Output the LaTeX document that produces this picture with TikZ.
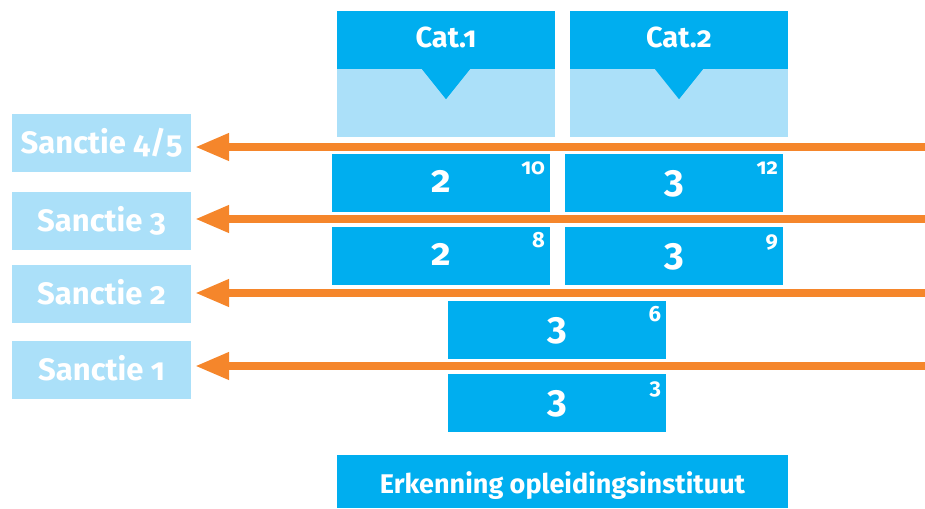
\documentclass[tikz,border=0pt]{standalone}
\usepackage{fontspec}
\setmainfont{Fira Sans}[Numbers=OldStyle]
\usetikzlibrary{arrows.meta}
\definecolor{catblue}{HTML}{00AEEF}
\definecolor{paleblue}{HTML}{ABE0F9}
\definecolor{sanctieorange}{HTML}{F5862B}
\tikzset{
    cat-head/.style = {fill=catblue, text=white, rectangle, inner sep=0pt, minimum width=218pt, minimum height=58pt, text height=16pt, text depth=0pt, font=\fontsize{29}{29}\selectfont\bfseries},
    cat-body/.style = {fill=paleblue, rectangle, inner sep=0pt, minimum width=218pt, minimum height=68pt},
    score-box/.style = {fill=catblue, text=white, rectangle, inner sep=0pt, minimum width=218pt, minimum height=58pt, text height=18pt, text depth=0pt, font=\fontsize{38}{38}\selectfont\bfseries},
    score-sup/.style = {text=white, inner sep=0pt, anchor=base east, font=\fontsize{22}{22}\selectfont\bfseries},
    sanctie-box/.style = {fill=paleblue, text=white, rectangle, inner sep=0pt, minimum width=179pt, minimum height=58pt, text height=20pt, text depth=0pt, font=\fontsize{31}{31}\selectfont\bfseries},
    sanctie-arrow/.style = {draw=sanctieorange, line width=7.5pt, -{Triangle[length=34pt,width=26pt]}, shorten >=4pt},
}
\begin{document}
\begin{tikzpicture}[x=1pt,y=-1pt]
\useasboundingbox (0,0) rectangle (925,508);
% categories
\node[cat-body] (body1) at (446,103) {};
\node[cat-body] (body2) at (679,103) {};
\node[cat-head] (cat1) at (446,40) {Cat.1};
\node[cat-head] (cat2) at (679,40) {Cat.2};
\fill[catblue] ([xshift=-24pt]cat1.south) -- ([xshift=24pt]cat1.south) -- ([yshift=-30pt]cat1.south) -- cycle;
\fill[catblue] ([xshift=-24pt]cat2.south) -- ([xshift=24pt]cat2.south) -- ([yshift=-30pt]cat2.south) -- cycle;

% scores
\node[score-box] (b1) at (441,183) {2};
\node[score-box] (b2) at (674,183) {3};
\node[score-box] (b3) at (441,256) {2};
\node[score-box] (b4) at (674,256) {3};
\node[score-box] (b5) at (557,330) {3};
\node[score-box] (b6) at (557,403) {3};
\node[score-sup] at ([xshift=-5pt,yshift=-21pt]b1.north east) {10};
\node[score-sup] at ([xshift=-5pt,yshift=-21pt]b2.north east) {12};
\node[score-sup] at ([xshift=-5pt,yshift=-21pt]b3.north east) {8};
\node[score-sup] at ([xshift=-5pt,yshift=-21pt]b4.north east) {9};
\node[score-sup] at ([xshift=-5pt,yshift=-21pt]b5.north east) {6};
\node[score-sup] at ([xshift=-5pt,yshift=-21pt]b6.north east) {3};

\node[score-box, minimum width=451pt, minimum height=53pt, text height=23pt, font=\fontsize{27}{27}\selectfont\bfseries] (erkenning) at (562.5,481.5) {Erkenning opleidingsinstituut};

% sancties
\node[sanctie-box] (s45) at (101.5,143) {Sanctie 4/5};
\node[sanctie-box] (s3) at (101.5,221) {Sanctie 3};
\node[sanctie-box] (s2) at (101.5,294) {Sanctie 2};
\node[sanctie-box] (s1) at (101.5,370) {Sanctie 1};

\coordinate (r45) at (925,147);
\coordinate (r3) at (925,219);
\coordinate (r2) at (925,293);
\coordinate (r1) at (925,366);
\draw[sanctie-arrow] (r45) -- (s45.east |- r45);
\draw[sanctie-arrow] (r3) -- (s3.east |- r3);
\draw[sanctie-arrow] (r2) -- (s2.east |- r2);
\draw[sanctie-arrow] (r1) -- (s1.east |- r1);
\end{tikzpicture}
\end{document}
